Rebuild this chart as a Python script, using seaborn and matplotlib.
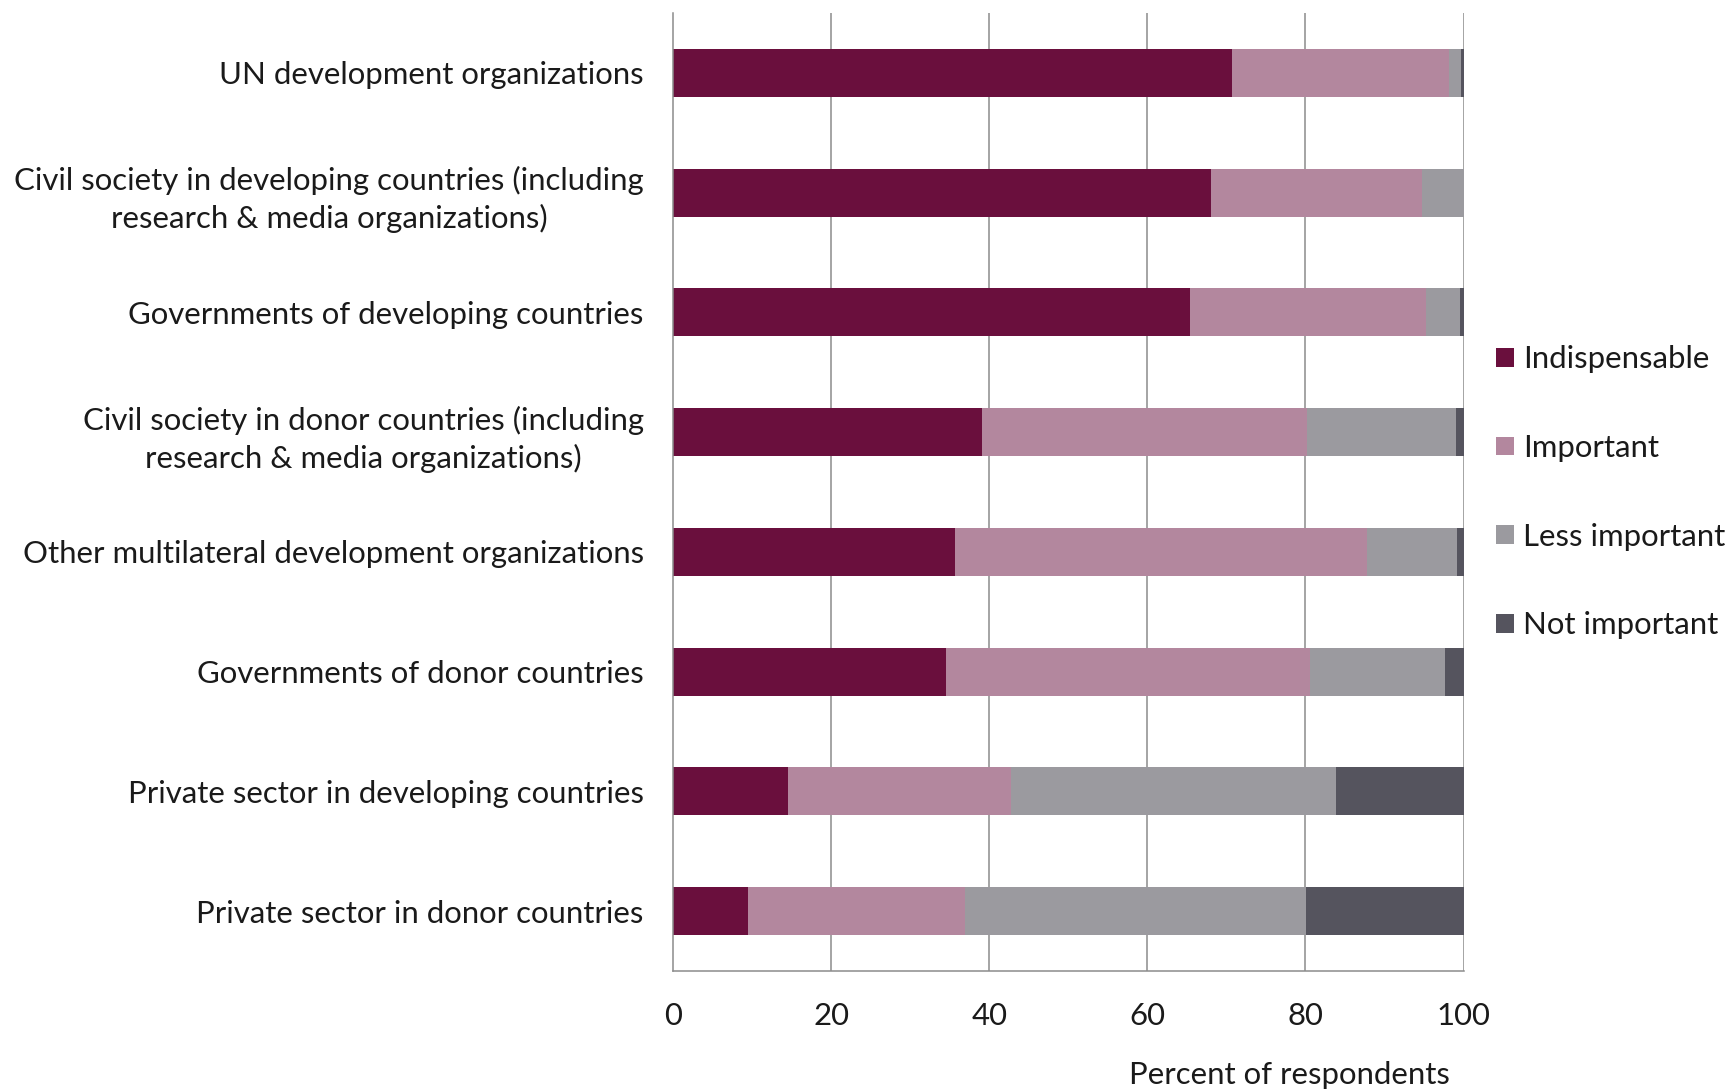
import matplotlib
matplotlib.use("Agg")
import matplotlib.pyplot as plt
from matplotlib.patches import Patch
import numpy as np
import pandas as pd
import seaborn as sns

# Stakeholder groups, top to bottom
categories = [
    "UN development organizations",
    "Civil society in developing countries (including\nresearch & media organizations)",
    "Governments of developing countries",
    "Civil society in donor countries (including\nresearch & media organizations)",
    "Other multilateral development organizations",
    "Governments of donor countries",
    "Private sector in developing countries",
    "Private sector in donor countries",
]

# Share of respondents (%) per rating
indispensable = [70.7, 68.0, 65.4, 39.1, 35.7, 34.5, 14.5, 9.5]
important = [27.4, 26.7, 29.8, 41.1, 52.1, 46.1, 28.3, 27.4]
less_important = [1.6, 5.3, 4.4, 18.9, 11.4, 17.0, 41.1, 43.2]
not_important = [0.3, 0.0, 0.4, 0.9, 0.8, 2.4, 16.1, 19.9]

series_names = ["Indispensable", "Important", "Less important", "Not important"]
series_colors = ["#6A0F3D", "#B3879E", "#9B9A9F", "#55545E"]
x_ticks = [0, 20, 40, 60, 80, 100]

df = pd.DataFrame({
    "group": categories,
    "Indispensable": indispensable,
    "Important": important,
    "Less important": less_important,
    "Not important": not_important,
})
cum = df[series_names].cumsum(axis=1)
cum["group"] = df["group"]

sns.set_style("white")
plt.rcParams["font.family"] = ["Lato", "DejaVu Sans"]
FS = 22.4
TXT = "#1A1A1A"

fig = plt.figure(figsize=(17.3, 10.89), dpi=100)
ax = fig.add_axes([0.389, 0.1084, 0.457, 0.8796])

grid_c = "#8C8C8C"
for xv in x_ticks[1:]:
    ax.axvline(xv, color=grid_c, lw=1.1, zorder=0)

# Stacked bars: draw cumulative totals from the outermost segment inward
for name, color in reversed(list(zip(series_names, series_colors))):
    sns.barplot(data=cum, x=name, y="group", order=categories, color=color,
                saturation=1, width=0.4, orient="h", linewidth=0, ax=ax, zorder=2)

ax.set_xlim(0, 100)
ax.set_ylim(len(categories) - 0.5, -0.5)
ax.set_xticks(x_ticks)
ax.set_xticklabels([str(v) for v in x_ticks], fontsize=FS, color=TXT)
ax.set_yticks(range(len(categories)))
ax.set_yticklabels(categories, fontsize=FS, ha="right", multialignment="center",
                   linespacing=1.38, color=TXT)
ax.set_yticks(np.arange(-0.5, len(categories), 1.0), minor=True)

ax.tick_params(axis="y", which="major", length=0, pad=21)
ax.tick_params(axis="y", which="minor", length=8, width=1.1, color=grid_c, direction="out")
ax.tick_params(axis="x", which="major", length=8, width=1.1, color=grid_c, direction="out", pad=14)

for side in ["top", "right"]:
    ax.spines[side].set_visible(False)
for side in ["left", "bottom"]:
    ax.spines[side].set_color(grid_c)
    ax.spines[side].set_linewidth(1.1)
    ax.spines[side].set_zorder(3)

ax.set_ylabel("")
ax.set_xlabel("Percent of respondents", fontsize=FS, color=TXT)
ax.xaxis.set_label_coords(0.78, -0.1086)
ax.xaxis.label.set_va("center")

handles = [Patch(facecolor=c, edgecolor="none", label=n)
           for n, c in zip(series_names, series_colors)]
leg = fig.legend(handles=handles, loc="center left", bbox_to_anchor=(0.865, 0.548),
                 frameon=False, fontsize=FS, handlelength=0.55, handleheight=0.55,
                 handletextpad=0.3, labelspacing=1.95, borderpad=0, borderaxespad=0)
for t in leg.get_texts():
    t.set_color(TXT)

fig.savefig("out.png", dpi=100, facecolor="white")
